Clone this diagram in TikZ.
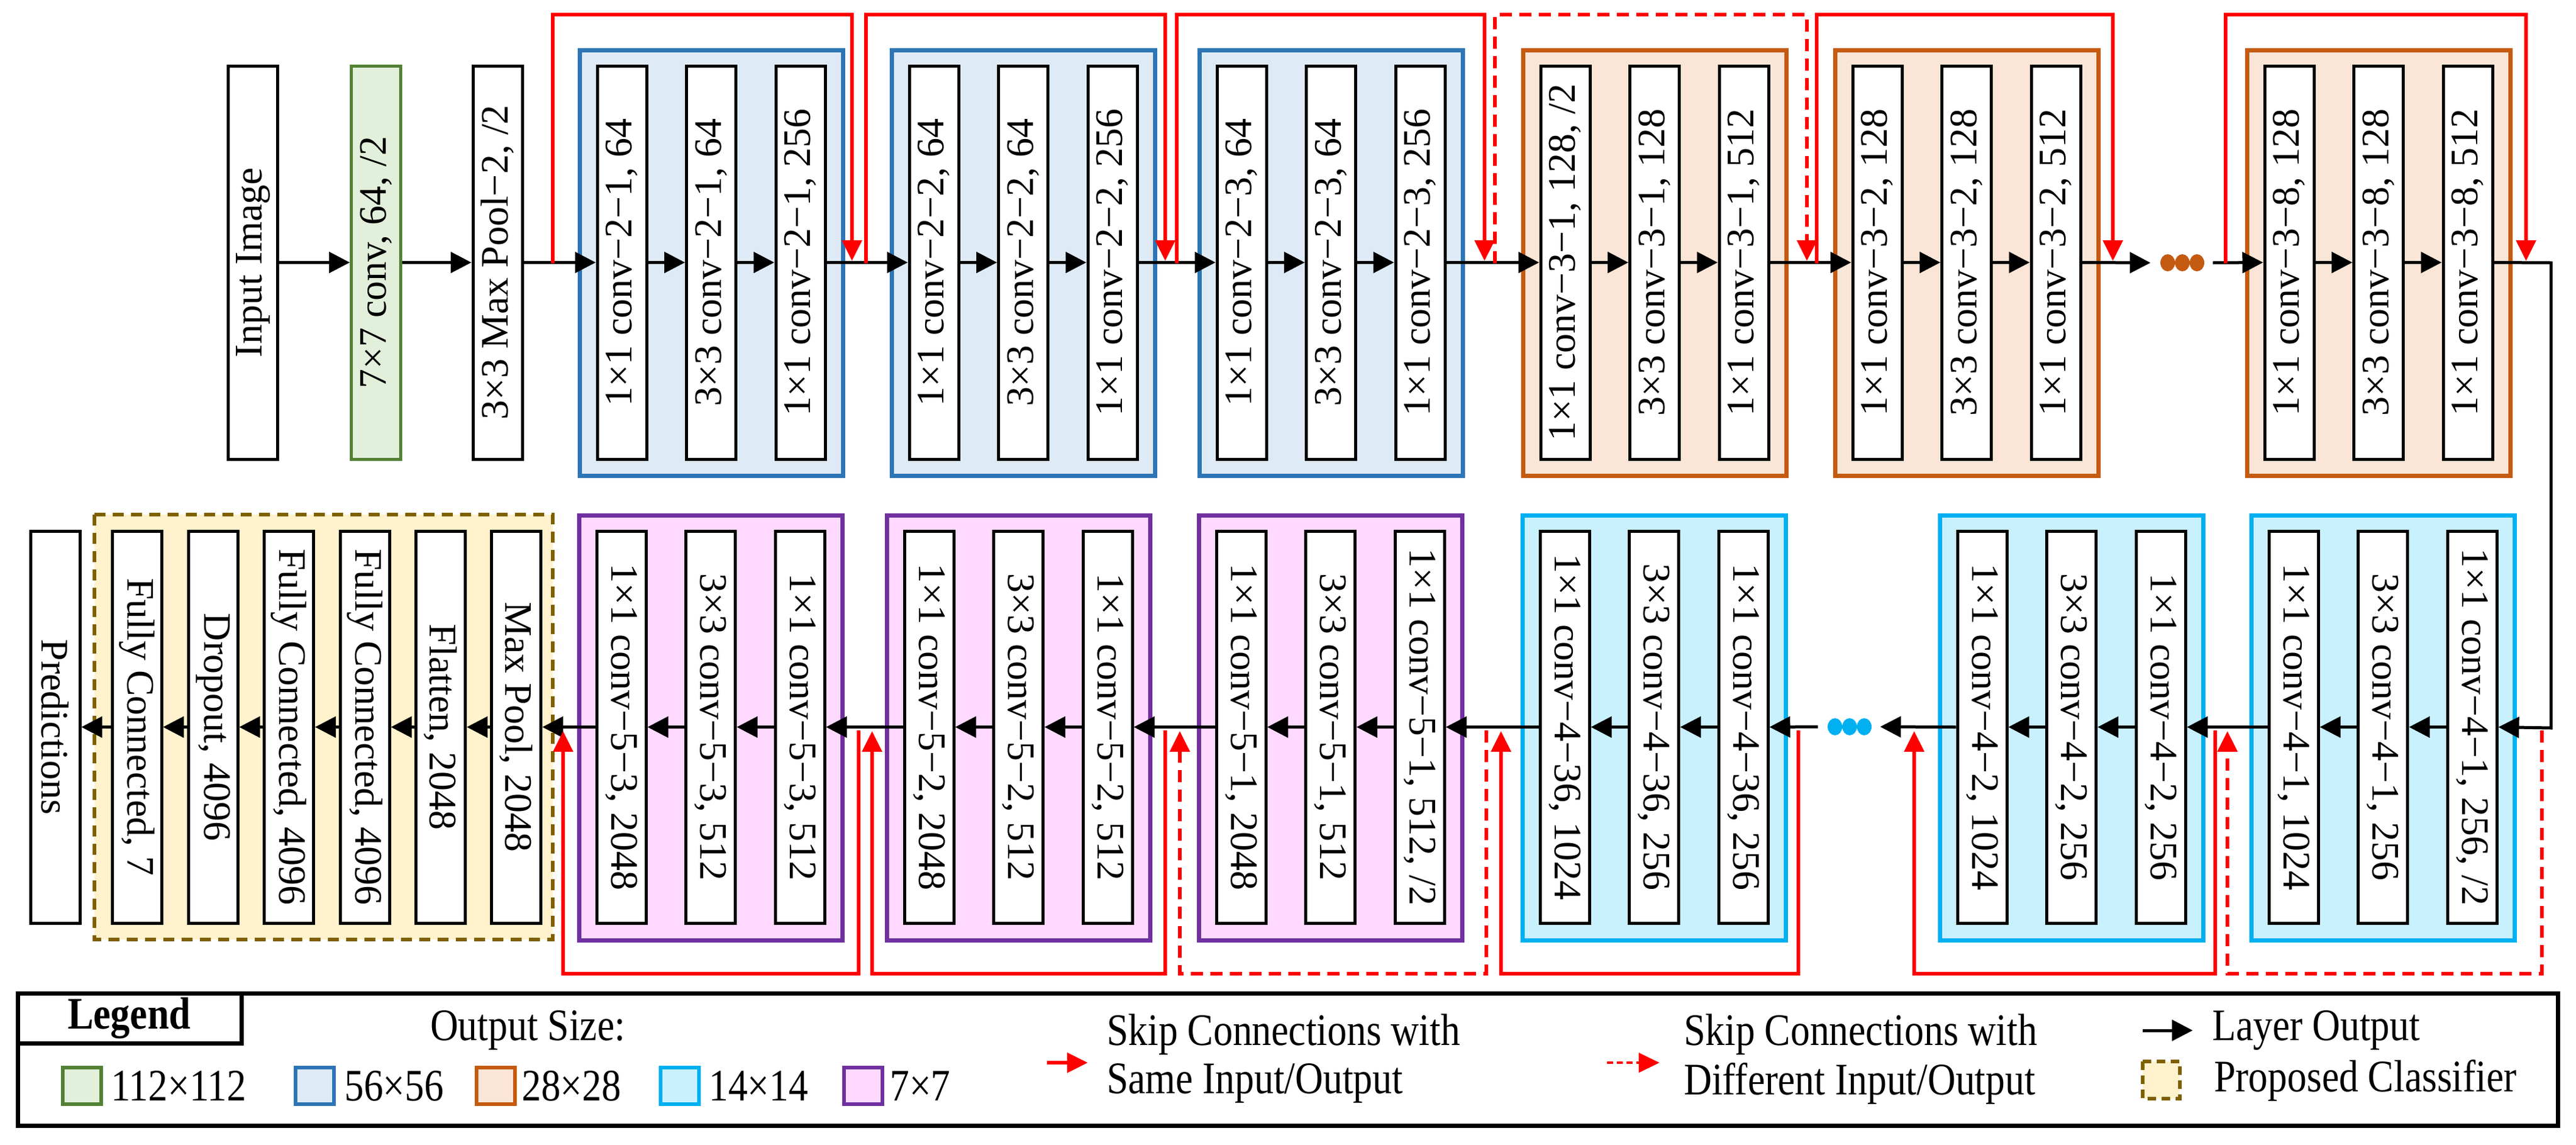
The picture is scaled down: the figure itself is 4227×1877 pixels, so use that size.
\documentclass[tikz,border=0pt]{standalone}
\usepackage{fontspec}
\setmainfont{Liberation Serif}
\newfontfamily\condf{Liberation Serif}[FakeStretch=0.86]
\usetikzlibrary{arrows.meta}
\definecolor{gF}{HTML}{E2EFDA}\definecolor{gD}{HTML}{538135}
\definecolor{bF}{HTML}{DEEBF7}\definecolor{bD}{HTML}{2E75B6}
\definecolor{oF}{HTML}{FBE5D6}\definecolor{oD}{HTML}{C55A11}
\definecolor{cF}{HTML}{C9F0FD}\definecolor{cD}{HTML}{00B0F0}
\definecolor{pF}{HTML}{FFD9FF}\definecolor{pD}{HTML}{7030A0}
\definecolor{yF}{HTML}{FFF2CC}\definecolor{yD}{HTML}{7F6000}
\definecolor{rr}{HTML}{FF0000}
\newcommand{\rt}[1]{\rotatebox{-90}{#1}}
\tikzset{
 tbox/.style={draw,fill=white,line width=5pt,rotate=90,minimum width=645pt,minimum height=81pt,inner sep=0pt,font=\fontsize{64}{70}\selectfont},
 bbox/.style={draw,fill=white,line width=5pt,minimum height=643pt,minimum width=81pt,inner sep=0pt,font=\fontsize{64}{70}\selectfont},
 arr/.style={line width=5pt,-{Triangle[length=34pt,width=34pt]}},
 skip/.style={rr,line width=6pt,-{Triangle[length=34pt,width=32pt]}},
 dskip/.style={skip,dash pattern=on 20pt off 12pt},
 fb/.style={draw=bD,fill=bF,line width=7pt},
 fo/.style={draw=oD,fill=oF,line width=7pt},
 fc/.style={draw=cD,fill=cF,line width=7pt},
 fp/.style={draw=pD,fill=pF,line width=7pt},
 leg/.style={font=\condf\fontsize{74}{80}\selectfont,inner sep=0pt},
}
\newcommand{\tgrp}[6]{%
 \draw[#3] (#2,-82) rectangle ++(432,-698);
 \node[tbox] (#1a) at ({#2+69.5},-430.5) {#4};
 \node[tbox] (#1b) at ({#2+216},-430.5) {#5};
 \node[tbox] (#1c) at ({#2+362.5},-430.5) {#6};
 \draw[arr] (#1a.south) -- (#1b.north);
 \draw[arr] (#1b.south) -- (#1c.north);}
\newcommand{\bgrp}[6]{%
 \draw[#3] (#2,-845) rectangle ++(432,-697);
 \node[bbox] (#1a) at ({#2+69.5},-1192.5) {\rt{#4}};
 \node[bbox] (#1b) at ({#2+216},-1192.5) {\rt{#5}};
 \node[bbox] (#1c) at ({#2+362.5},-1192.5) {\rt{#6}};
 \draw[arr] (#1c.west) -- (#1b.east);
 \draw[arr] (#1b.west) -- (#1a.east);}
\begin{document}
\begin{tikzpicture}[x=1pt,y=1pt]
\useasboundingbox (0,0) rectangle (4227,-1877);
% ---------- top row
\node[tbox] (inp) at (415,-430.5) {Input Image};
\node[tbox,fill=gF,draw=gD] (c7) at (617,-430.5) {7×7 conv, 64, /2};
\node[tbox] (mp) at (816.5,-430.5) {3×3 Max Pool−2, /2};
\tgrp{ga}{951}{fb}{1×1 conv−2−1, 64}{3×3 conv−2−1, 64}{1×1 conv−2−1, 256}
\tgrp{gb}{1463}{fb}{1×1 conv−2−2, 64}{3×3 conv−2−2, 64}{1×1 conv−2−2, 256}
\tgrp{gc}{1968}{fb}{1×1 conv−2−3, 64}{3×3 conv−2−3, 64}{1×1 conv−2−3, 256}
\tgrp{gd}{2499}{fo}{1×1 conv−3−1, 128, /2}{3×3 conv−3−1, 128}{1×1 conv−3−1, 512}
\tgrp{ge}{3011}{fo}{1×1 conv−3−2, 128}{3×3 conv−3−2, 128}{1×1 conv−3−2, 512}
\tgrp{gf}{3687}{fo}{1×1 conv−3−8, 128}{3×3 conv−3−8, 128}{1×1 conv−3−8, 512}
\draw[arr] (inp.south) -- (c7.north);
\draw[arr] (c7.south) -- (mp.north);
\draw[arr] (mp.south) -- (gaa.north);
\draw[arr] (gac.south) -- (gba.north);
\draw[arr] (gbc.south) -- (gca.north);
\draw[arr] (gcc.south) -- (gda.north);
\draw[arr] (gdc.south) -- (gea.north);
\node[minimum width=76pt,minimum height=26pt,inner sep=0pt] (tdots) at (3581,-431) {};
\foreach \xx in {3557,3581,3605} \fill[oD] (\xx,-431) ellipse (12pt and 14pt);
\draw[arr] (gec.south) -- ([xshift=-14pt]tdots.west);
\draw[arr] ([xshift=12pt]tdots.east) -- (gfa.north);
% top skips
\foreach \a/\b/\s in {907/1398/skip,1421/1912/skip,1931/2436/skip,2453/2965/dskip,2981/3467/skip,3652/4145/skip}
 \draw[\s] (\a,-432) |- (\b,-24) -- (\b,-428);
% ---------- transition
\coordinate (tr1) at (4186,-431);
\coordinate (tr2) at (4186,-1194);
% ---------- bottom row
\bgrp{ha}{950}{fp}{1×1 conv−5−3, 2048}{3×3 conv−5−3, 512}{1×1 conv−5−3, 512}
\bgrp{hb}{1455}{fp}{1×1 conv−5−2, 2048}{3×3 conv−5−2, 512}{1×1 conv−5−2, 512}
\bgrp{hc}{1967}{fp}{1×1 conv−5−1, 2048}{3×3 conv−5−1, 512}{1×1 conv−5−1, 512, /2}
\bgrp{hd}{2498}{fc}{1×1 conv−4−36, 1024}{3×3 conv−4−36, 256}{1×1 conv−4−36, 256}
\bgrp{he}{3183}{fc}{1×1 conv−4−2, 1024}{3×3 conv−4−2, 256}{1×1 conv−4−2, 256}
\bgrp{hf}{3694}{fc}{1×1 conv−4−1, 1024}{3×3 conv−4−1, 256}{1×1 conv−4−1, 256, /2}
\draw[arr] (gfc.south) -- (tr1) -- (tr2) -- (hfc.east);
\draw[arr] (hfa.west) -- (hec.east);
\node[minimum width=76pt,minimum height=26pt,inner sep=0pt] (bdots) at (3035,-1192) {};
\foreach \xx in {3011,3035,3059} \fill[cD] (\xx,-1192) ellipse (12pt and 14pt);
\draw[arr] (hea.west) -- ([xshift=12pt]bdots.east);
\draw[arr] ([xshift=-14pt]bdots.west) -- (hdc.east);
\draw[arr] (hda.west) -- (hcc.east);
\draw[arr] (hca.west) -- (hbc.east);
\draw[arr] (hba.west) -- (hac.east);
% classifier
\draw[fill=yF,draw=yD,line width=6pt,dash pattern=on 18pt off 12pt] (155,-844) rectangle (907,-1541);
\node[bbox] (mx) at (847,-1192.5) {\rt{Max Pool, 2048}};
\node[bbox] (fl) at (723,-1192.5) {\rt{Flatten, 2048}};
\node[bbox] (f1) at (598.5,-1192.5) {\rt{Fully Connected, 4096}};
\node[bbox] (f2) at (474,-1192.5) {\rt{Fully Connected, 4096}};
\node[bbox] (dr) at (349.5,-1192.5) {\rt{Dropout, 4096}};
\node[bbox] (f3) at (224.5,-1192.5) {\rt{Fully Connected, 7}};
\node[bbox] (pr) at (90.5,-1192.5) {\rt{Predictions}};
\draw[arr] (haa.west) -- (mx.east);
\draw[arr] (mx.west) -- (fl.east);
\draw[arr] (fl.west) -- (f1.east);
\draw[arr] (f1.west) -- (f2.east);
\draw[arr] (f2.west) -- (dr.east);
\draw[arr] (dr.west) -- (f3.east);
\draw[arr] (f3.west) -- (pr.east);
% bottom skips
\foreach \a/\b/\s in {1409/924/skip,1912/1431/skip,2439/1936/dskip,2951/2463/skip,3635/3141/skip,4171/3655/dskip}
 \draw[\s] (\a,-1198) |- (\b,-1597) -- (\b,-1199);
% ---------- legend
\draw[line width=7pt] (29,-1629) rectangle (4197,-1846);
\draw[line width=7pt] (29,-1711) -| (396,-1629);
\node[leg,font=\condf\bfseries\fontsize{74}{80}\selectfont] (lt) at (212,-1670) {Legend};
\node[leg] (os) at (866,-1690) {Output Size:};
\foreach \sx/\f/\d/\tx/\t in {103/gF/gD/182/112×112,485/bF/bD/565/56×56,782/oF/oD/856/28×28,1084/cF/cD/1163/14×14,1385/pF/pD/1460/7×7}{
 \draw[fill=\f,draw=\d,line width=6pt] (\sx,-1751) rectangle ++(63,-60);
 \node[leg,anchor=west] at (\tx,-1781) {\t};}
\coordinate (l1a) at (1718,-1743); \coordinate (l1b) at (1785,-1743);
\draw[skip] (l1a) -- (l1b);
\node[leg,anchor=west] (l1t) at (1816,-1697) {Skip Connections with};
\node[leg,anchor=west] (l1u) at (1816,-1777) {Same Input/Output};
\coordinate (l2a) at (2637,-1743); \coordinate (l2b) at (2723,-1743);
\draw[skip,line width=4pt,dash pattern=on 10pt off 6pt] (l2a) -- (l2b);
\node[leg,anchor=west] (l2t) at (2763,-1697) {Skip Connections with};
\node[leg,anchor=west] (l2u) at (2763,-1777) {Different Input/Output};
\coordinate (l3a) at (3516,-1690); \coordinate (l3b) at (3598,-1690);
\draw[arr] (l3a) -- (l3b);
\node[leg,anchor=west] (l3t) at (3630,-1690) {Layer Output};
\draw[fill=yF,draw=yD,line width=6pt,dash pattern=on 14pt off 9pt] (3516,-1741) rectangle (3577,-1802);
\node[leg,anchor=west] (l4t) at (3633,-1772) {Proposed Classifier};
\end{tikzpicture}
\end{document}
